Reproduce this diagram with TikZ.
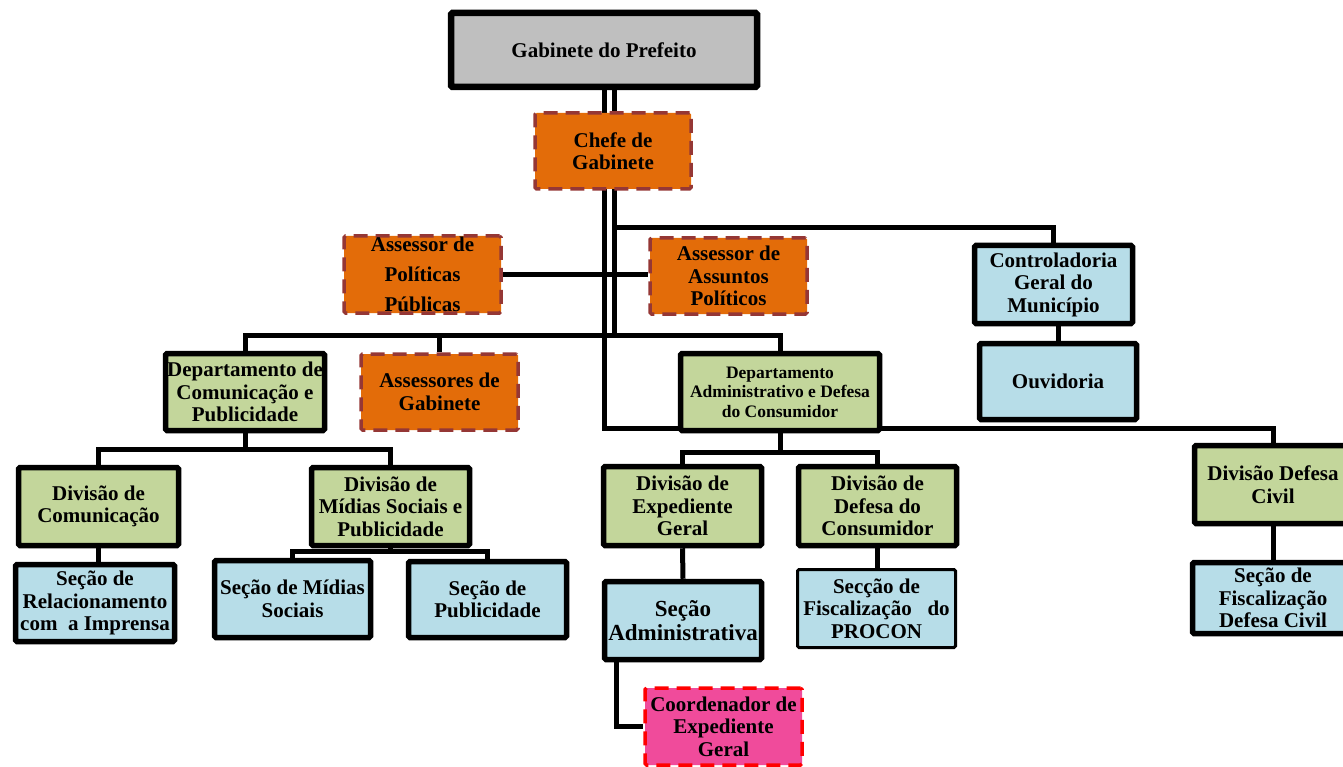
\documentclass[tikz,border=0pt]{standalone}
\usepackage{fontspec}
\setmainfont{Liberation Serif}
\usetikzlibrary{backgrounds,calc}

\definecolor{CorCinza}{HTML}{BFBFBF}
\definecolor{CorLaranja}{HTML}{E36C09}
\definecolor{CorBorda}{HTML}{953735}
\definecolor{CorVerde}{HTML}{C3D69B}
\definecolor{CorAzul}{HTML}{B7DDE8}
\definecolor{CorRosa}{HTML}{F04B9B}

\begin{document}
\begin{tikzpicture}[x=1pt,y=-1pt]

\tikzset{Caixa/.style     = {draw       = black,
                             line width = 5.5pt,
                             rounded corners = 1.5pt,
                             align      = center,
                             inner sep  = 1pt,
                             text       = black,
                             font       = \bfseries\fontsize{21}{22.5}\selectfont},
         CaixaVerde/.style = {Caixa, fill=CorVerde},
         CaixaAzul/.style  = {Caixa, fill=CorAzul},
         Assessor/.style   = {Caixa, fill=CorLaranja, draw=CorBorda,
                             line width=3.5pt, dash pattern=on 14pt off 8pt},
         Ligacao/.style    = {draw=black, line width=5pt}}

\useasboundingbox (0,0) rectangle (1343,767);

%%% topo
   \node[Caixa, fill=CorCinza, line width=6.5pt, minimum width=306pt, minimum height=74pt]
        (Prefeito) at (604,50) {Gabinete do Prefeito};
   \node[Assessor, minimum width=156pt, minimum height=76pt]
        (Chefe) at (613,151) {Chefe de\\Gabinete};
   \node[Assessor, minimum width=157pt, minimum height=77pt, font=\bfseries\fontsize{21}{30}\selectfont]
        (AssPol) at (422.5,274.5) {Assessor de\\Políticas\\Públicas};
   \node[Assessor, minimum width=157pt, minimum height=76pt]
        (AssAss) at (728.5,276) {Assessor de\\Assuntos\\Políticos};
   \node[CaixaAzul, minimum width=158pt, minimum height=78pt]
        (Controladoria) at (1053.5,284.5) {Controladoria\\Geral do\\Município};
   \node[CaixaAzul, minimum width=157pt, minimum height=76pt]
        (Ouvidoria) at (1058,381.5) {Ouvidoria};

%%% departamentos
   \node[CaixaVerde, minimum width=159pt, minimum height=77pt]
        (DeptCom) at (245,392) {Departamento de\\Comunicação e\\Publicidade};
   \node[Assessor, minimum width=157pt, minimum height=76pt]
        (Assessores) at (439.5,392) {Assessores de\\Gabinete};
   \node[CaixaVerde, minimum width=199pt, minimum height=77pt, font=\bfseries\fontsize{17.5}{19.5}\selectfont]
        (DeptAdm) at (780,392) {Departamento\\Administrativo e Defesa\\do Consumidor};

%%% divisoes
   \node[CaixaVerde, minimum width=160pt, minimum height=78pt]
        (DivCom) at (98.5,506.5) {Divisão de\\Comunicação};
   \node[CaixaVerde, minimum width=158pt, minimum height=78pt]
        (DivMid) at (390.5,506.5) {Divisão de\\Mídias Sociais e\\Publicidade};
   \node[CaixaVerde, minimum width=158pt, minimum height=79pt]
        (DivExp) at (682.5,506) {Divisão de\\Expediente\\Geral};
   \node[CaixaVerde, minimum width=158pt, minimum height=79pt]
        (DivCons) at (877.5,506) {Divisão de\\Defesa do\\Consumidor};
   \node[CaixaVerde, minimum width=157pt, minimum height=78pt]
        (DivCivil) at (1273,484.5) {Divisão Defesa\\Civil};

%%% secoes
   \node[CaixaAzul, minimum width=159pt, minimum height=77pt]
        (SecRel) at (95,603) {Seção de\\Relacionamento\\com~ a Imprensa};
   \node[CaixaAzul, minimum width=156pt, minimum height=77pt]
        (SecMid) at (292.5,599) {Seção de Mídias\\Sociais};
   \node[CaixaAzul, minimum width=158pt, minimum height=76pt]
        (SecPub) at (487.5,599.5) {Seção de\\Publicidade};
   \node[CaixaAzul, minimum width=157pt, minimum height=78pt, font=\bfseries\fontsize{23}{24}\selectfont]
        (SecAdm) at (683,620.5) {Seção\\Administrativa};
   \node[CaixaAzul, line width=3pt, minimum width=158pt, minimum height=78pt]
        (SecProcon) at (876.5,608.5) {Secção de\\Fiscalização~~ do\\PROCON};
   \node[CaixaAzul, minimum width=161pt, minimum height=71pt]
        (SecCivil) at (1273,598) {Seção de\\Fiscalização\\Defesa Civil};
   \node[Assessor, fill=CorRosa, draw=red, minimum width=157pt, minimum height=77pt]
        (Coord) at (723.5,726.5) {Coordenador de\\Expediente\\Geral};

%%% pontos das barras
   \coordinate (TroncoA)   at (604,428);
   \coordinate (TroncoB)   at (614,335);
   \coordinate (TroncoC)   at (614,228);
   \coordinate (BarraCom)  at (245,449);
   \coordinate (BarraMid)  at (390.5,551);
   \coordinate (BarraAdm)  at (780,452);

\begin{scope}[on background layer]
   \draw[Ligacao] (Prefeito.south) -- (TroncoA) -| (DivCivil.north);
   \draw[Ligacao] ($(Prefeito.south)+(10,0)$) -- (TroncoB);
   \draw[Ligacao] (TroncoC) -| (Controladoria.north);
   \draw[Ligacao] (AssPol.east) -- (AssPol.east -| AssAss.west);
   \draw[Ligacao] (DeptCom.north) |- (TroncoB) -| (DeptAdm.north);
   \draw[Ligacao] (Assessores.north) -- (Assessores.north |- TroncoB);
   \draw[Ligacao] (Ouvidoria.north) -- (Ouvidoria.north |- Controladoria.south);

   \draw[Ligacao] (DeptCom.south) -- (BarraCom);
   \draw[Ligacao] (DivCom.north) |- (BarraCom) -| (DivMid.north);
   \draw[Ligacao] (DivCom.south) -- (DivCom.south |- SecRel.north);
   \draw[Ligacao] (DivMid.south) -- (BarraMid);
   \draw[Ligacao] (SecMid.north) |- (BarraMid) -| (SecPub.north);

   \draw[Ligacao] (DeptAdm.south) -- (BarraAdm);
   \draw[Ligacao] (DivExp.north) |- (BarraAdm) -| (DivCons.north);
   \draw[Ligacao] (DivExp.south) -- (SecAdm.north);
   \draw[Ligacao] (DivCons.south) -- (DivCons.south |- SecProcon.north);
   \draw[Ligacao] ($(SecAdm.south west)+(15,0)$) |- (Coord.west);
   \draw[Ligacao] (DivCivil.south) -- (SecCivil.north);
\end{scope}

\end{tikzpicture}
\end{document}
